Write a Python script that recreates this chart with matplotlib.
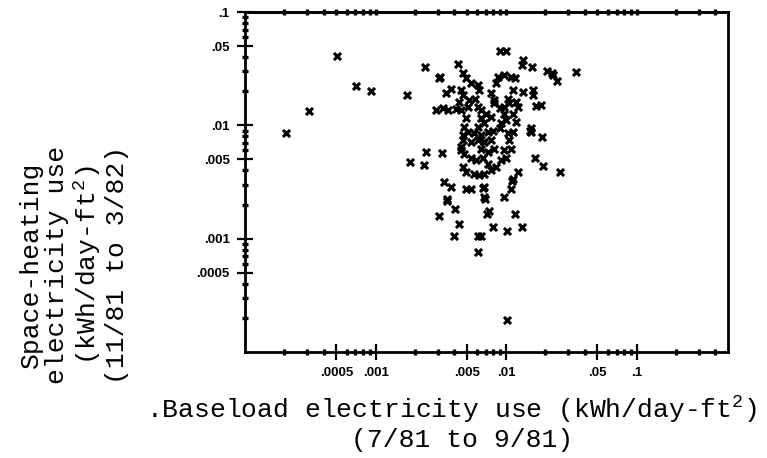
import matplotlib
matplotlib.use("Agg")
import matplotlib.pyplot as plt
from matplotlib.ticker import FixedLocator, NullLocator, FixedFormatter, NullFormatter

# baseload use (kWh/day-ft2), 7/81-9/81
baseload = [
    5.1e-4, 7.1e-4, 9.3e-4, 3.07e-4, 2.06e-4, 1.75e-3, 2.38e-3, 1.83e-3, 2.33e-3, 2.45e-3,
    3.22e-3, 3.12e-3, 3.07e-3, 2.9e-3, 3.26e-3, 3.57e-3, 4.25e-3, 3.78e-3, 3.45e-3, 8.9e-3,
    1.0e-2, 0.0134, 0.0132, 0.0158, 0.0207, 0.0229, 0.0247, 0.0225, 0.034, 0.0113,
    0.0134, 0.016, 0.016, 0.0104, 0.017, 0.0186, 0.0156, 0.0156, 0.0188, 0.0167,
    0.0192, 0.0257, 0.0124, 0.0111, 0.0108, 0.0097, 0.0068, 0.0068, 0.0116, 0.0080,
    0.0102, 0.0132, 0.0102, 0.00335, 0.00377, 0.0049, 0.0054, 0.0066, 0.00355, 0.0069,
    0.00405, 0.00307, 0.00714, 0.0074, 0.00436, 0.00396, 0.00604, 0.00642, 0.00612, 0.0113,
    0.0119, 0.0151,
    0.00464, 0.0049, 0.0054, 0.00605, 0.00623, 0.0045, 0.00464, 0.0086, 0.0097, 0.0109,
    0.0116, 0.0084, 0.0077, 0.00436, 0.00507, 0.0045, 0.0041, 0.00605, 0.00642, 0.00702,
    0.00767, 0.00813, 0.0089, 0.0097, 0.0106, 0.0119, 0.0123, 0.0113, 0.0100, 0.0092,
    0.00642, 0.0068, 0.00605, 0.00478, 0.00507, 0.00464, 0.0057, 0.00642, 0.0072, 0.0079,
    0.0089, 0.0113, 0.0054, 0.00605, 0.0068, 0.00767, 0.0106, 0.0109, 0.00464, 0.0045,
    0.00478, 0.0045, 0.00642, 0.0072, 0.0081, 0.0097, 0.0100, 0.0092, 0.0054, 0.0059,
    0.0066, 0.0072, 0.00464, 0.0049, 0.0057, 0.00623, 0.0068, 0.00767, 0.0084, 0.00355,
    0.0052, 0.0081, 0.0097, 0.0103, 0.0058, 0.0049,
]
# space-heating use (kWh/day-ft2), 11/81-3/82
heating = [
    0.0408, 0.0224, 0.0201, 0.0133, 0.0086, 0.0185, 0.0328, 0.0047, 0.00445, 0.00577,
    0.00569, 0.0268, 0.0259, 0.0136, 0.0141, 0.0136, 0.0347, 0.0211, 0.0191, 0.0455,
    0.0455, 0.0376, 0.0340, 0.0328, 0.0303, 0.0277, 0.0245, 0.0290, 0.0296, 0.0207,
    0.0197, 0.0204, 0.0184, 0.0172, 0.0147, 0.0152, 0.0094, 0.0087, 0.0079, 0.0052,
    0.0044, 0.0039, 0.00386, 0.00326, 0.00275, 0.00235, 0.00284, 0.00232, 0.00166, 0.00126,
    0.00116, 0.00126, 0.00019, 0.00315, 0.00284, 0.00275, 0.00275, 0.00281, 0.00217, 0.00224,
    0.00183, 0.00157, 0.00166, 0.00175, 0.00135, 0.00106, 0.00106, 0.00106, 0.000767, 0.00337,
    0.0107, 0.0090,
    0.0287, 0.0259, 0.0234, 0.0226, 0.0204, 0.0204, 0.0184, 0.0268, 0.0277, 0.0268,
    0.0259, 0.0234, 0.0191, 0.0161, 0.0145, 0.0136, 0.0138, 0.0145, 0.0136, 0.0127,
    0.0119, 0.0156, 0.0141, 0.0127, 0.0156, 0.0161, 0.0145, 0.0127, 0.0111, 0.0104,
    0.0115, 0.0104, 0.0097, 0.0097, 0.0087, 0.0082, 0.0085, 0.0082, 0.0087, 0.0090,
    0.0094, 0.0087, 0.0071, 0.0074, 0.0071, 0.0074, 0.0074, 0.0062, 0.0074, 0.0060,
    0.0056, 0.0064, 0.0062, 0.0058, 0.0062, 0.0060, 0.0052, 0.0049, 0.0052, 0.0049,
    0.0051, 0.00458, 0.00428, 0.00386, 0.00374, 0.00362, 0.00374, 0.0040, 0.00428, 0.00226,
    0.0166, 0.0166, 0.0145, 0.0085, 0.0170, 0.0115,
]

x_major = [0.0005, 0.001, 0.005, 0.01, 0.05, 0.1]
x_labels = [".0005", ".001", ".005", ".01", ".05", ".1"]
y_major = [0.0005, 0.001, 0.005, 0.01, 0.05, 0.1]
y_labels = [".0005", ".001", ".005", ".01", ".05", ".1"]

plt.rcParams["mathtext.fontset"] = "custom"
plt.rcParams["mathtext.rm"] = "Liberation Mono"

fig = plt.figure(figsize=(7.67, 4.58), dpi=100)
ax = fig.add_axes([245 / 767, 1 - 352 / 458, (728 - 245) / 767, (352 - 12) / 458])

ax.scatter(baseload, heating, marker="x", s=26, linewidths=2.2, color="black")

ax.set_xscale("log")
ax.set_yscale("log")
ax.set_xlim(1e-4, 0.5)
ax.set_ylim(1e-4, 0.1)

# minor positions: every integer multiple in a decade that is not a labelled tick
def minors(lo_exp, hi_exp, top):
    out = []
    for e in range(lo_exp, hi_exp):
        for m in range(2, 10):
            v = round(m * 10.0 ** e, 8)
            if v <= top and m != 5:
                out.append(v)
    return out

x_minor = minors(-4, 0, 0.5)
y_minor = minors(-4, -1, 0.1)

ax.xaxis.set_major_locator(FixedLocator(x_major))
ax.xaxis.set_major_formatter(FixedFormatter(x_labels))
ax.xaxis.set_minor_locator(FixedLocator(x_minor))
ax.xaxis.set_minor_formatter(NullFormatter())
ax.yaxis.set_major_locator(FixedLocator(y_major))
ax.yaxis.set_major_formatter(FixedFormatter(y_labels))
ax.yaxis.set_minor_locator(FixedLocator(y_minor))
ax.yaxis.set_minor_formatter(NullFormatter())

ax.tick_params(which="major", direction="inout", length=12, width=1.6, pad=5,
               labelsize=9.5, colors="black")
ax.tick_params(which="minor", direction="inout", length=5, width=2.4)
for lab in ax.get_xticklabels() + ax.get_yticklabels():
    lab.set_fontweight("bold")
    lab.set_family("Liberation Sans")

# dotted ticks along the top edge
top = ax.secondary_xaxis("top")
top.xaxis.set_major_locator(FixedLocator(sorted(x_major + x_minor)))
top.xaxis.set_minor_locator(NullLocator())
top.tick_params(direction="inout", length=5, width=2.4, labeltop=False)

for sp in ax.spines.values():
    sp.set_linewidth(2.0)
top.spines["top"].set_linewidth(2.0)

fig.text(74 / 767, 1 - 265 / 458,
         "Space-heating\nelectricity use\n(kWh/day-ft$\\mathregular{^2}$)\n(11/81 to 3/82)",
         rotation=90, ha="center", va="center", multialignment="center",
         family="Liberation Mono", fontsize=19, linespacing=1.12)
fig.text(452 / 767, 1 - 410 / 458, ".Baseload electricity use (kWh/day-ft$\\mathregular{^2}$)",
         ha="center", va="center", family="Liberation Mono", fontsize=19)
fig.text(462 / 767, 1 - 440 / 458, "(7/81 to 9/81)",
         ha="center", va="center", family="Liberation Mono", fontsize=19)

fig.savefig("out.png", dpi=100)
